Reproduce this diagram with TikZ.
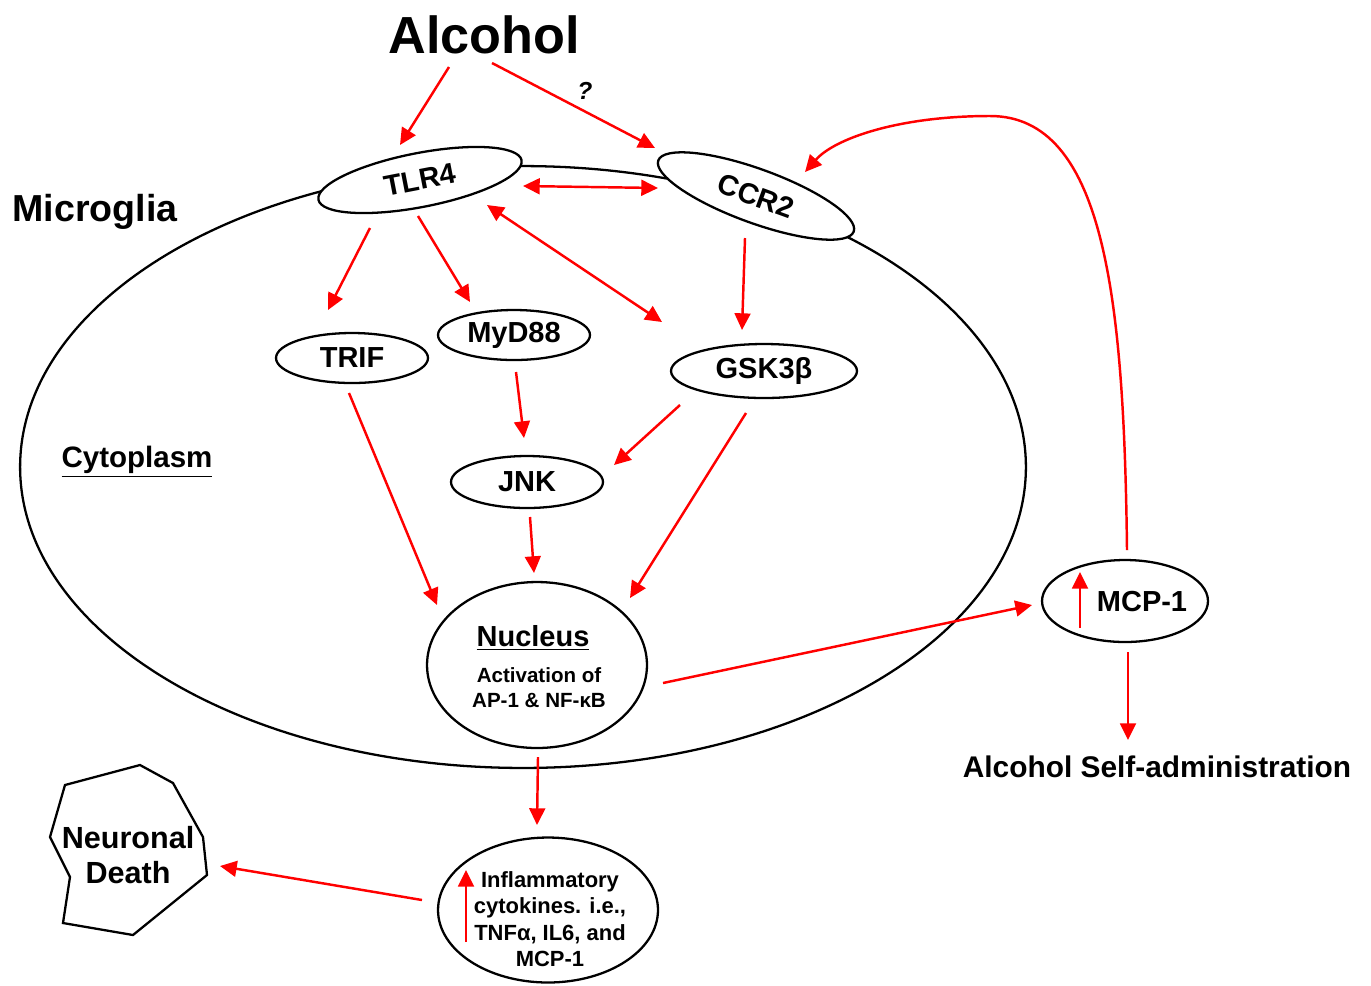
\documentclass[tikz,border=0pt]{standalone}
\usepackage{fontspec}
\setmainfont{Liberation Sans}
\usetikzlibrary{shapes.geometric,arrows.meta,calc}
\begin{document}
\begin{tikzpicture}[x=0.02cm,y=-0.02cm,
 ell/.style={draw, ellipse, line width=1.3pt, fill=white, inner sep=0pt, font=\fontsize{16.5}{20}\selectfont\bfseries},
 arr/.style={draw=red, line width=1.4pt, -{Triangle[length=9.5pt,width=9pt]}},
 darr/.style={draw=red, line width=1.4pt, {Triangle[length=9.5pt,width=9pt]}-{Triangle[length=9.5pt,width=9pt]}},
 txt/.style={inner sep=0pt, align=center}
]
\useasboundingbox (0,0) rectangle (1371,985);

% cell membrane
\node[draw, ellipse, line width=1.3pt, inner sep=0pt, minimum width=20.12cm, minimum height=12.04cm] (cell) at (523,467) {};

% receptors
\node[ell, rotate=11, minimum width=4.14cm, minimum height=1.08cm] (tlr4) at (420,180) {TLR4};
\node[ell, rotate=-20, minimum width=4.16cm, minimum height=1.08cm] (ccr2) at (756,196) {CCR2};

% intracellular nodes
\node[ell, minimum width=3.04cm, minimum height=1.0cm] (trif) at (352,358) {TRIF};
\node[ell, minimum width=3.04cm, minimum height=1.0cm] (myd) at (514,335) {MyD88};
\node[ell, minimum width=3.72cm, minimum height=1.08cm] (gsk) at (764,371) {GSK3β};
\node[ell, minimum width=3.04cm, minimum height=1.04cm] (jnk) at (527,482) {JNK};
\node[ell, minimum width=4.4cm, minimum height=3.32cm] (nuc) at (537,665) {};
\node[txt, font=\fontsize{16.5}{20}\selectfont\bfseries] (nuclbl) at (533,638) {\underline{Nucleus}};
\node[txt, font=\fontsize{11.7}{14.2}\selectfont\bfseries] (nuctxt) at (539,688) {Activation of\\AP-1 \& NF-κB};

\node[ell, minimum width=4.4cm, minimum height=2.9cm] (cyt) at (548,910) {};
\node[txt, font=\fontsize{12.5}{15.1}\selectfont\bfseries] (cyttxt) at (550,919) {Inflammatory\\cytokines. i.e.,\\TNFα, IL6, and\\MCP-1};

\node[ell, minimum width=3.32cm, minimum height=1.64cm] (mcp) at (1125,601) {};
\node[txt, font=\fontsize{16.5}{20}\selectfont\bfseries] (mcplbl) at (1142,602) {MCP-1};

% labels
\node[txt, font=\fontsize{29.7}{34}\selectfont\bfseries] (alc) at (484,35) {Alcohol};
\node[txt, font=\fontsize{21.4}{25}\selectfont\bfseries] (micro) at (95,212) {Microglia};
\node[txt, font=\fontsize{16.8}{20}\selectfont\bfseries] (cytop) at (137,462) {\underline{Cytoplasm}};
\node[txt, font=\fontsize{17}{20}\selectfont\bfseries] (self) at (1157,767) {Alcohol Self-administration};
\node[txt, font=\fontsize{14}{16}\selectfont\bfseries\itshape] (q) at (585,91) {?};

% neuronal death
\draw[line width=1.3pt, fill=white] (65,785) -- (140,765) -- (173,783) -- (203,837) -- (207,875) -- (133,935) -- (63,923) -- (70,877) -- (50,837) -- cycle;
\node[txt, font=\fontsize{17.4}{20}\selectfont\bfseries] (nd) at (128,855) {Neuronal\\Death};

% arrows
\draw[arr] ($(alc)+(-35,32)$) -- ($(tlr4)+(-20,-35)$);
\draw[arr] ($(alc)+(8,28)$) -- ($(ccr2)+(-101,-48)$);
\draw[darr] ($(tlr4)+(103,6)$) -- ($(ccr2)+(-98,-8)$);
\draw[darr] ($(tlr4)+(67,25)$) -- ($(gsk)+(-102,-49)$);
\draw[arr] ($(tlr4)+(-50,48)$) -- ($(trif)+(-24,-48)$);
\draw[arr] ($(tlr4)+(-2,36)$) -- ($(myd)+(-44,-33)$);
\draw[arr] ($(ccr2)+(-11,42)$) -- ($(gsk)+(-22,-41)$);
\draw[arr] ($(myd)+(2,37)$) -- ($(jnk)+(-3,-44)$);
\draw[arr] ($(gsk)+(-84,34)$) -- ($(jnk)+(87,-17)$);
\draw[arr] ($(trif)+(-3,35)$) -- ($(nuc)+(-100,-60)$);
\draw[arr] ($(jnk)+(3,35)$) -- ($(nuc)+(-3,-92)$);
\draw[arr] ($(gsk)+(-18,42)$) -- ($(nuc)+(93,-67)$);
\draw[arr] ($(nuc)+(126,18)$) -- ($(mcp)+(-93,4)$);
\draw[arr] ($(mcp)+(3,51)$) -- ($(self)+(-29,-27)$);
\draw[arr] ($(mcp)+(2,-51)$) .. controls (1124,300) and (1105,116) .. (990,116) .. controls (900,116) and (835,138) .. ($(ccr2)+(49,-24)$);
\draw[arr] ($(nuc)+(1,92)$) -- ($(cyt)+(-11,-85)$);
\draw[arr] ($(cyt)+(-126,-10)$) -- ($(nd)+(92,11)$);
\draw[arr] ($(mcp)+(-45,27)$) -- ($(mcp)+(-45,-29)$);
\draw[arr] ($(cyt)+(-82,32)$) -- ($(cyt)+(-82,-40)$);
\end{tikzpicture}
\end{document}
